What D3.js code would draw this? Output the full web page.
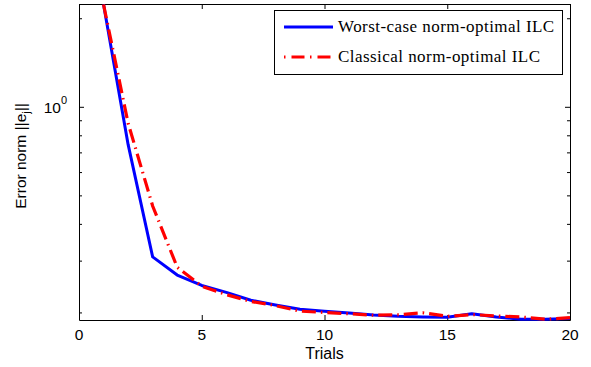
<!DOCTYPE html>
<html>
<head>
<meta charset="utf-8">
<script src="https://cdn.jsdelivr.net/npm/d3@7"></script>
<style>
body { margin: 0; background: #fff; }
svg text { font-family: "Liberation Sans", Arial, sans-serif; fill: #000; }
.legend text { font-family: "Liberation Serif", "Times New Roman", serif; letter-spacing: 0.45px; }
</style>
</head>
<body>
<svg id="chart" width="591" height="367"></svg>
<script>
// Data
const trials = [1, 2, 3, 4, 5, 6, 7, 8, 9, 10, 11, 12, 13, 14, 15, 16, 17, 18, 19, 20];
const worstCase = [2.227, 0.745, 0.309, 0.268, 0.247, 0.234, 0.220, 0.212, 0.205, 0.202,
                   0.199, 0.196, 0.194, 0.193, 0.1926, 0.198, 0.193, 0.1896, 0.1896, 0.1906];
const classical = [2.227, 0.880, 0.460, 0.285, 0.2455, 0.230, 0.218, 0.211, 0.202, 0.200,
                   0.198, 0.1956, 0.1964, 0.1995, 0.194, 0.1967, 0.1946, 0.1931, 0.1896, 0.1919];
const seriesNames = ["Worst-case norm-optimal ILC", "Classical norm-optimal ILC"];
const xTicks = [0, 5, 10, 15, 20];
const yMajorTicks = [1];
const yMinorTicks = [0.2, 0.3, 0.4, 0.5, 0.6, 0.7, 0.8, 0.9, 2];

const plotLeft = 79, plotRight = 570, plotTop = 4, plotBottom = 320;

const svg = d3.select("#chart");

const x = d3.scaleLinear().domain([0, 20]).range([plotLeft, plotRight]);
const y = d3.scaleLog().domain([0.1885, 2.227]).range([plotBottom, plotTop + 0.5]);

// Clip for lines
svg.append("clipPath").attr("id", "plotClip")
    .append("rect")
    .attr("x", plotLeft).attr("y", plotTop)
    .attr("width", plotRight - plotLeft + 1).attr("height", plotBottom - plotTop + 1);

// Axes (ticks point inward, MATLAB style)
function styleAxis(g) {
    g.selectAll("path, line").attr("stroke", "#000").attr("stroke-width", 1);
    g.selectAll("text").remove();
}

svg.append("g")
    .attr("transform", `translate(0,${plotBottom})`)
    .call(d3.axisBottom(x).tickValues(xTicks).tickSizeInner(-5).tickSizeOuter(0))
    .call(styleAxis);
svg.append("g")
    .attr("transform", `translate(0,${plotTop})`)
    .call(d3.axisTop(x).tickValues(xTicks).tickSizeInner(-5).tickSizeOuter(0))
    .call(styleAxis);

svg.append("g")
    .attr("transform", `translate(${plotLeft},0)`)
    .call(d3.axisLeft(y).tickValues(yMajorTicks).tickSizeInner(-5).tickSizeOuter(0))
    .call(styleAxis);
svg.append("g")
    .attr("transform", `translate(${plotLeft},0)`)
    .call(d3.axisLeft(y).tickValues(yMinorTicks).tickSizeInner(-3).tickSizeOuter(0))
    .call(styleAxis)
    .select(".domain").remove();
svg.append("g")
    .attr("transform", `translate(${plotRight},0)`)
    .call(d3.axisRight(y).tickValues(yMajorTicks).tickSizeInner(-5).tickSizeOuter(0))
    .call(styleAxis);
svg.append("g")
    .attr("transform", `translate(${plotRight},0)`)
    .call(d3.axisRight(y).tickValues(yMinorTicks).tickSizeInner(-3).tickSizeOuter(0))
    .call(styleAxis)
    .select(".domain").remove();

// Tick labels
svg.append("g").selectAll("text")
    .data(xTicks)
    .enter().append("text")
    .attr("x", d => x(d))
    .attr("y", plotBottom + 20)
    .attr("text-anchor", "middle")
    .style("font-size", "15.5px")
    .text(d => d);

const yLab = svg.append("g").selectAll("text")
    .data(yMajorTicks)
    .enter().append("text")
    .attr("x", plotLeft - 12)
    .attr("y", d => y(d) + 6)
    .attr("text-anchor", "end")
    .style("font-size", "15.5px");
yLab.append("tspan").text("10");
yLab.append("tspan").attr("dy", -9).style("font-size", "11px").text(d => Math.round(Math.log10(d)));

// Axis labels
svg.append("text")
    .attr("x", (plotLeft + plotRight) / 2)
    .attr("y", 359)
    .attr("text-anchor", "middle")
    .style("font-size", "16px")
    .text("Trials");

const ylabel = svg.append("text")
    .attr("transform", `translate(25.5,${(plotTop + plotBottom) / 2 - 6}) rotate(-90)`)
    .attr("text-anchor", "middle")
    .style("font-size", "15.5px");
ylabel.append("tspan").text("Error norm ||e");
ylabel.append("tspan").attr("dy", 4).style("font-size", "11px").text("j");
ylabel.append("tspan").attr("dy", -4).text("||");

// Lines
const line = d3.line()
    .x((d, i) => x(trials[i]))
    .y(d => y(d));

const plot = svg.append("g").attr("clip-path", "url(#plotClip)");
plot.append("path")
    .datum(worstCase)
    .attr("d", line)
    .attr("fill", "none")
    .attr("stroke", "#0000ff")
    .attr("stroke-width", 3)
    .attr("stroke-linejoin", "round");
plot.append("path")
    .datum(classical)
    .attr("d", line)
    .attr("fill", "none")
    .attr("stroke", "#ff0000")
    .attr("stroke-width", 3.2)
    .attr("stroke-dasharray", "14,5,1.5,5");

// Legend
const legend = svg.append("g").attr("class", "legend");
legend.append("rect")
    .attr("x", 274.5).attr("y", 10.5)
    .attr("width", 288).attr("height", 64)
    .attr("fill", "#fff")
    .attr("stroke", "#000")
    .attr("stroke-width", 1);

const legendItems = [
    { name: seriesNames[0], color: "#0000ff", dash: null, yPos: 27 },
    { name: seriesNames[1], color: "#ff0000", dash: "1.5,6,13,5.5", yPos: 57 }
];
legendItems.forEach(item => {
    legend.append("line")
        .attr("x1", 284).attr("x2", 333)
        .attr("y1", item.yPos).attr("y2", item.yPos)
        .attr("stroke", item.color)
        .attr("stroke-width", 3)
        .attr("stroke-dasharray", item.dash);
    legend.append("text")
        .attr("x", 338)
        .attr("y", item.yPos + 5)
        .style("font-size", "17px")
        .text(item.name);
});
</script>
</body>
</html>
